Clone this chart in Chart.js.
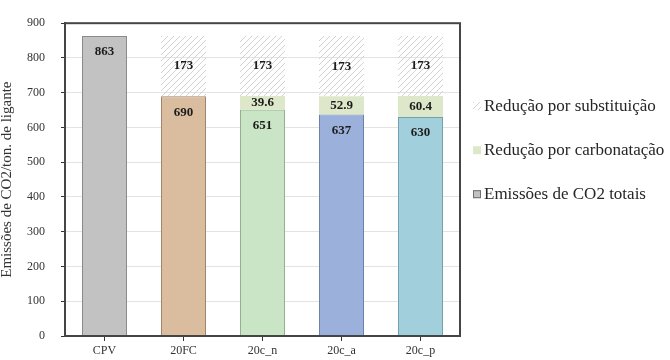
<!DOCTYPE html>
<html>
<head>
<meta charset="utf-8">
<title>Emissões de CO2</title>
<script src="https://cdn.jsdelivr.net/npm/chart.js@4/dist/chart.umd.min.js"></script>
<style>
  html, body { margin: 0; padding: 0; background: #fff; }
  #wrap { width: 670px; height: 360px; }
</style>
</head>
<body>
<div id="wrap"><canvas id="chart"></canvas></div>
<script>
// mixes and their CO2 figures (kg CO2 / ton of binder)
const categories = ['CPV', '20FC', '20c_n', '20c_a', '20c_p'];
const totalEmissions = [863, 690, 651, 637, 630];
const carbonationReduction = [null, null, 39.6, 52.9, 60.4];
const substitutionReduction = [null, 173, 173, 173, 173];
const seriesNames = ['Emissões de CO2 totais', 'Redução por carbonatação', 'Redução por substituição'];
const yMin = 0, yMax = 900, yStep = 100;

const barFill = ['#c2c2c2', '#dabc9f', '#cae5c5', '#9bb0db', '#a2cfdc'];
const barEdge = ['#8a8a8a', '#a3836b', '#92b08e', '#6c80aa', '#73a0ae'];
const serif = '"Liberation Serif", "Times New Roman", serif';

const canvas = document.getElementById('chart');

function hatchPattern(color) {
    const tile = document.createElement('canvas');
    tile.width = 6;
    tile.height = 6;
    const c = tile.getContext('2d');
    c.strokeStyle = color;
    c.lineWidth = 1;
    c.beginPath();
    c.moveTo(0, 6); c.lineTo(6, 0);
    c.moveTo(-1, 1); c.lineTo(1, -1);
    c.moveTo(5, 7); c.lineTo(7, 5);
    c.stroke();
    return canvas.getContext('2d').createPattern(tile, 'repeat');
}

// numbers written on each segment: totals near the top, reductions centred
const valueLabels = {
    id: 'valueLabels',
    afterDatasetsDraw(chart) {
        const ctx = chart.ctx;
        ctx.save();
        ctx.font = 'bold 13px ' + serif;
        ctx.fillStyle = '#1c1c1c';
        ctx.textAlign = 'center';
        ctx.textBaseline = 'middle';
        chart.data.datasets.forEach((ds, i) => {
            chart.getDatasetMeta(i).data.forEach((bar, j) => {
                const v = ds.data[j];
                if (v == null) return;
                const y = ds.labelAt === 'top' ? bar.y + 16 : (bar.y + bar.base) / 2;
                ctx.fillText(String(v), bar.x, y);
            });
        });
        ctx.restore();
    }
};

// closed frame around the plot
const plotFrame = {
    id: 'plotFrame',
    afterDraw(chart) {
        const { ctx, chartArea: a } = chart;
        ctx.save();
        ctx.strokeStyle = '#454545';
        ctx.lineWidth = 2;
        ctx.strokeRect(a.left, a.top, a.right - a.left, a.bottom - a.top);
        ctx.restore();
    }
};

// legend to the right of the plot, last series first
const sideLegend = {
    id: 'sideLegend',
    afterDraw(chart) {
        const { ctx, chartArea } = chart;
        const x = chartArea.right + 13;
        let y = chartArea.top + 83;
        ctx.save();
        ctx.font = '17px ' + serif;
        ctx.textBaseline = 'middle';
        chart.data.datasets.slice().reverse().forEach(ds => {
            const fill = Array.isArray(ds.backgroundColor) ? ds.backgroundColor[0] : ds.backgroundColor;
            ctx.fillStyle = fill;
            ctx.fillRect(x, y - 4, 8, 8);
            if (ds.borderWidth) {
                ctx.strokeStyle = '#6e6e6e';
                ctx.lineWidth = 1;
                ctx.strokeRect(x + 0.5, y - 3.5, 7, 7);
            }
            ctx.fillStyle = '#262626';
            ctx.fillText(ds.label, x + 11, y);
            y += 44;
        });
        ctx.restore();
    }
};

new Chart(canvas, {
    type: 'bar',
    data: {
        labels: categories,
        datasets: [
            {
                label: seriesNames[0],
                data: totalEmissions,
                backgroundColor: barFill,
                borderColor: barEdge,
                borderWidth: 1,
                labelAt: 'top'
            },
            {
                label: seriesNames[1],
                data: carbonationReduction,
                backgroundColor: '#dde8ca',
                borderWidth: 0
            },
            {
                label: seriesNames[2],
                data: substitutionReduction,
                backgroundColor: hatchPattern('#d2d2d2'),
                borderWidth: 0
            }
        ]
    },
    options: {
        responsive: true,
        maintainAspectRatio: false,
        animation: false,
        barPercentage: 0.57,
        categoryPercentage: 1,
        layout: { padding: { top: 16, right: 210, left: 0, bottom: 0 } },
        plugins: {
            legend: { display: false },
            tooltip: { enabled: false }
        },
        scales: {
            x: {
                stacked: true,
                ticks: { color: '#333', font: { family: serif, size: 12 }, padding: 3 },
                grid: { offset: false, drawOnChartArea: false, tickColor: '#333', tickLength: 5 },
                border: { color: '#454545', width: 2 },
                afterFit(scale) { scale.height = 24; }
            },
            y: {
                stacked: true,
                min: yMin,
                max: yMax,
                ticks: { stepSize: yStep, padding: 16, color: '#333', font: { family: serif, size: 12 } },
                grid: { color: '#e3e3e3', tickColor: '#333', tickLength: 4 },
                border: { color: '#454545', width: 2 },
                title: {
                    display: true,
                    text: 'Emissões de CO2/ton. de ligante',
                    color: '#333',
                    font: { family: serif, size: 15, lineHeight: 1 },
                    padding: 0
                },
                afterFit(scale) { scale.width = 65; }
            }
        }
    },
    plugins: [valueLabels, plotFrame, sideLegend]
});
</script>
</body>
</html>
